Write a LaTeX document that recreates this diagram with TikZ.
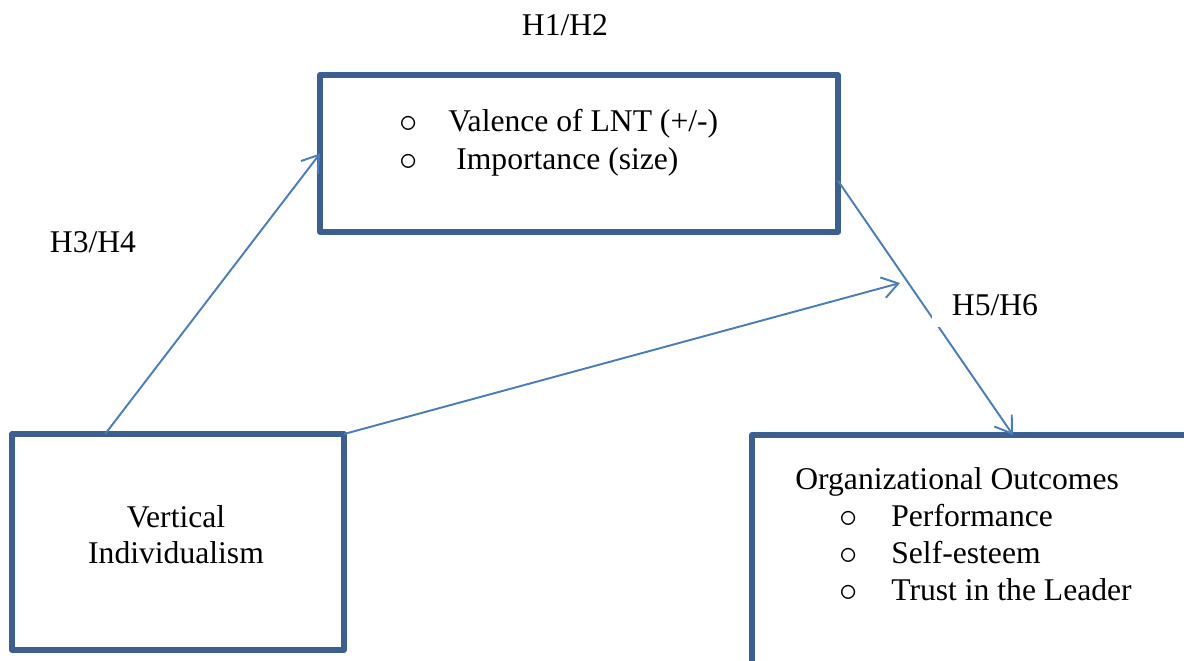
\documentclass[tikz,border=0pt]{standalone}
\usepackage{fontspec}
\setmainfont{Liberation Serif}
\usetikzlibrary{arrows.meta}
\usetikzlibrary{positioning}
\definecolor{boxblue}{HTML}{3B5F8E}
\definecolor{arrowblue}{HTML}{4A7EBB}

\begin{document}
\begin{tikzpicture}[x=0.02cm,y=-0.02cm,>={Straight Barb[length=9pt,width=12pt]},font=\fontsize{18}{21}\selectfont]
\tikzstyle{box}=[draw=boxblue,line width=3pt,line join=round,outer sep=0pt,inner sep=0pt]
\tikzstyle{txt}=[inner sep=0pt,anchor=base west]
\tikzstyle{dot}=[txt,font=\fontsize{22.5}{22.5}\selectfont,text height=8pt,text depth=0pt]
\tikzstyle{hyp}=[inner sep=0pt,anchor=base]
\tikzstyle{link}=[->,arrowblue,line width=1.1pt]
\useasboundingbox (0,0) rectangle (1184,660);
\clip (0,0) rectangle (1184,660);

% boxes
\node[box,minimum width=10.36cm,minimum height=3.14cm]	(lnt)	at (579,153.5)	{};
\node[box,minimum width=6.64cm,minimum height=4.32cm]	(vind)	at (178,542)	{};
\node[box,minimum width=10.44cm,minimum height=6cm,anchor=north]	(outc)	at (1013,435)	{};

% box texts
\node[dot]	(lb1)	at (399.5,132.5)	{$\circ$};
\node[txt]	(lt1)	at (448,131)	{Valence of LNT (+/-)};
\node[dot]	(lb2)	at (399.5,170.5)	{$\circ$};
\node[txt]	(lt2)	at (456,169)	{Importance (size)};
\node[hyp]	(vi1)	at (176,527)	{Vertical};
\node[hyp]	(vi2)	at (176,563)	{Individualism};
\node[txt]	(oc)	at (795,489)	{Organizational Outcomes};
\foreach \y/\t [count=\i] in {526/Performance,563/Self-esteem,600/Trust in the Leader}{
	\node[dot]	(ob\i)	at (839.5,\y+1.5)	{$\circ$};
	\node[txt]	(ot\i)	at (891,\y)	{\t};
}

% hypotheses
\coordinate (mod) at (900,283);
\path	(vind.124)		edge[link]	(lnt.west)
	 (vind.north east)	edge[link]	(mod)
	 (lnt.-6.5)		edge[link]	(outc.north);
\node[hyp]	(h12)	at (565,35)	{H1/H2};
\node[hyp]	(h34)	at (93,252)	{H3/H4};
\node[hyp,fill=white,inner xsep=0.4cm,inner ysep=0.24cm]	(h56)	at (995,315)	{H5/H6};
\end{tikzpicture}
\end{document}
